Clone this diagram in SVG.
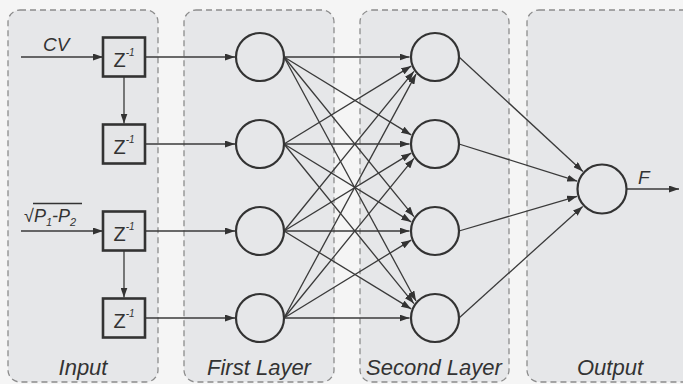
<svg xmlns="http://www.w3.org/2000/svg" width="683" height="384" viewBox="0 0 683 384">
  <style>
    .panel { fill: #e6e7e9; stroke: #8c8c8c; stroke-width: 1.3; stroke-dasharray: 6 4; }
    .neuron { fill: none; stroke: #333; stroke-width: 2.2; }
    .delay { fill: #e4e5e7; stroke: #333; stroke-width: 2.6; }
    .edge { fill: none; stroke: #3a3a3a; stroke-width: 1.3; marker-end: url(#arrow); }
    .lbl { font-family: "Liberation Sans", Arial, sans-serif; font-style: italic; fill: #333; }
    .zt { font-family: "Liberation Sans", Arial, sans-serif; fill: #333; font-size: 20px; }
    .sup { font-size: 10px; font-style: italic; }
    .title { font-size: 22px; text-anchor: middle; }
  </style>
  <defs>
    <marker id="arrow" viewBox="0 0 10 7" refX="10" refY="3.5" markerWidth="10" markerHeight="7" markerUnits="userSpaceOnUse" orient="auto">
      <path d="M0,0 L10,3.5 L0,7 z" fill="#333"/>
    </marker>
  </defs>

  <rect x="0" y="0" width="683" height="384" fill="#f5f5f5"/>

  <!-- layer panels -->
  <g id="panels">
    <rect class="panel" x="8" y="10" width="150" height="372" rx="12"/>
    <rect class="panel" x="184" y="10" width="150" height="372" rx="12"/>
    <rect class="panel" x="360" y="10" width="149" height="372" rx="12"/>
    <rect class="panel" x="527" y="10" width="180" height="372" rx="12"/>
  </g>

  <!-- connectors -->
  <g id="connectors">
    <!-- inputs into delay line -->
    <line class="edge" x1="21" y1="57" x2="103" y2="57"/>
    <line class="edge" x1="21" y1="231" x2="103" y2="231"/>
    <line class="edge" x1="124" y1="76.5" x2="124" y2="123.5"/>
    <line class="edge" x1="124" y1="250.5" x2="124" y2="297.5"/>
    <!-- delays to first layer -->
    <line class="edge" x1="145" y1="57" x2="235" y2="57"/>
    <line class="edge" x1="145" y1="144" x2="235" y2="144"/>
    <line class="edge" x1="145" y1="231" x2="235" y2="231"/>
    <line class="edge" x1="145" y1="318" x2="235" y2="318"/>
    <!-- first layer to second layer -->
    <line class="edge" x1="284" y1="57" x2="409.5" y2="57"/>
    <line class="edge" x1="284" y1="57" x2="411.2" y2="134.9"/>
    <line class="edge" x1="284" y1="57" x2="413.9" y2="216.6"/>
    <line class="edge" x1="284" y1="57" x2="416" y2="301"/>
    <line class="edge" x1="284" y1="144" x2="411.2" y2="66.1"/>
    <line class="edge" x1="284" y1="144" x2="409.5" y2="144"/>
    <line class="edge" x1="284" y1="144" x2="411.2" y2="221.9"/>
    <line class="edge" x1="284" y1="144" x2="413.9" y2="303.6"/>
    <line class="edge" x1="284" y1="231" x2="413.9" y2="71.4"/>
    <line class="edge" x1="284" y1="231" x2="411.2" y2="153.1"/>
    <line class="edge" x1="284" y1="231" x2="409.5" y2="231"/>
    <line class="edge" x1="284" y1="231" x2="411.2" y2="308.9"/>
    <line class="edge" x1="284" y1="318" x2="416" y2="74.1"/>
    <line class="edge" x1="284" y1="318" x2="413.9" y2="158.4"/>
    <line class="edge" x1="284" y1="318" x2="411.2" y2="240.1"/>
    <line class="edge" x1="284" y1="318" x2="409.5" y2="318"/>
    <!-- second layer to output -->
    <line class="edge" x1="459" y1="57" x2="582.9" y2="171.4"/>
    <line class="edge" x1="459" y1="144" x2="577.2" y2="181.2"/>
    <line class="edge" x1="459" y1="231" x2="577.1" y2="196.3"/>
    <line class="edge" x1="459" y1="318" x2="582.7" y2="206.4"/>
    <!-- output -->
    <line class="edge" x1="626.5" y1="189" x2="679" y2="189"/>
  </g>

  <!-- input signals -->
  <g id="in-cv">
    <text class="lbl" x="43" y="51" font-size="19">CV</text>
  </g>
  <g id="in-dp">
    <text class="lbl" x="24" y="222" font-size="18"><tspan font-style="normal">√</tspan>P<tspan dy="4" font-size="11">1</tspan><tspan dy="-4">-P</tspan><tspan dy="4" font-size="11">2</tspan></text>
    <line x1="33" y1="203.5" x2="82" y2="203.5" stroke="#333" stroke-width="1.3"/>
  </g>

  <!-- delay elements -->
  <g id="delay1">
    <rect class="delay" x="103" y="37.5" width="42" height="39"/>
    <text class="zt" x="113.5" y="66.5">Z<tspan class="sup" dy="-11">-1</tspan></text>
  </g>
  <g id="delay2">
    <rect class="delay" x="103" y="124.5" width="42" height="39"/>
    <text class="zt" x="113.5" y="153.5">Z<tspan class="sup" dy="-11">-1</tspan></text>
  </g>
  <g id="delay3">
    <rect class="delay" x="103" y="211.5" width="42" height="39"/>
    <text class="zt" x="113.5" y="240.5">Z<tspan class="sup" dy="-11">-1</tspan></text>
  </g>
  <g id="delay4">
    <rect class="delay" x="103" y="298.5" width="42" height="39"/>
    <text class="zt" x="113.5" y="327.5">Z<tspan class="sup" dy="-11">-1</tspan></text>
  </g>

  <!-- first layer -->
  <g id="h1-1"><circle class="neuron" cx="260" cy="57" r="24"/></g>
  <g id="h1-2"><circle class="neuron" cx="260" cy="144" r="24"/></g>
  <g id="h1-3"><circle class="neuron" cx="260" cy="231" r="24"/></g>
  <g id="h1-4"><circle class="neuron" cx="260" cy="318" r="24"/></g>

  <!-- second layer -->
  <g id="h2-1"><circle class="neuron" cx="435" cy="57" r="24"/></g>
  <g id="h2-2"><circle class="neuron" cx="435" cy="144" r="24"/></g>
  <g id="h2-3"><circle class="neuron" cx="435" cy="231" r="24"/></g>
  <g id="h2-4"><circle class="neuron" cx="435" cy="318" r="24"/></g>

  <!-- output neuron -->
  <g id="out">
    <circle class="neuron" cx="602" cy="189" r="24.5"/>
    <text class="lbl" x="638" y="184" font-size="19">F</text>
  </g>

  <!-- layer titles -->
  <g id="titles">
    <text class="lbl title" x="83" y="375">Input</text>
    <text class="lbl title" x="259" y="375">First Layer</text>
    <text class="lbl title" x="434" y="375">Second Layer</text>
    <text class="lbl title" x="610" y="375">Output</text>
  </g>
</svg>
